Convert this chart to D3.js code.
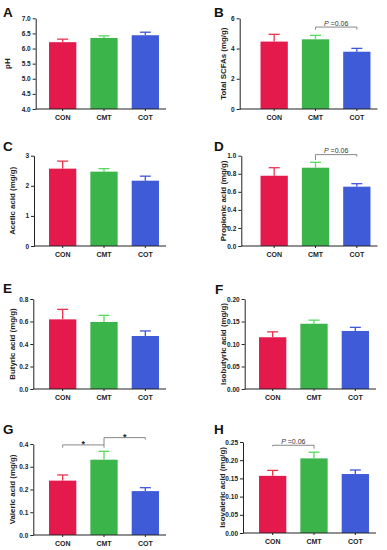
<!DOCTYPE html>
<html><head><meta charset="utf-8">
<script src="https://cdn.jsdelivr.net/npm/d3@7"></script>
<style>body{margin:0;background:#fff}svg{display:block}</style>
</head><body>
<svg id="chart" width="387" height="550"></svg>
<script>
// ---------- DATA ----------
const categories = ["CON", "CMT", "COT"];
const colors = ["#E31A4B", "#3BB44A", "#3F5BD8"];
const errColors = ["#E8354F", "#55DA5C", "#3F55DE"];

const phMean = [6.21, 6.35, 6.44];
const phErr = [0.10, 0.07, 0.10];
const phTicks = [4.0, 4.5, 5.0, 5.5, 6.0, 6.5, 7.0];

const scfaMean = [4.46, 4.61, 3.79];
const scfaErr = [0.48, 0.26, 0.22];
const scfaTicks = [0, 2, 4, 6];

const aceticMean = [2.57, 2.47, 2.17];
const aceticErr = [0.25, 0.10, 0.15];
const aceticTicks = [0, 1, 2, 3];

const propionicMean = [0.778, 0.867, 0.657];
const propionicErr = [0.089, 0.060, 0.033];
const propionicTicks = [0.0, 0.2, 0.4, 0.6, 0.8, 1.0];

const butyricMean = [0.619, 0.596, 0.471];
const butyricErr = [0.089, 0.059, 0.045];
const butyricTicks = [0.0, 0.2, 0.4, 0.6, 0.8];

const isobutyricMean = [0.115, 0.145, 0.129];
const isobutyricErr = [0.012, 0.008, 0.008];
const isobutyricTicks = [0.00, 0.05, 0.10, 0.15, 0.20];

const valericMean = [0.239, 0.331, 0.193];
const valericErr = [0.025, 0.037, 0.015];
const valericTicks = [0.0, 0.1, 0.2, 0.3, 0.4];

const isovalericMean = [0.157, 0.205, 0.162];
const isovalericErr = [0.015, 0.017, 0.011];
const isovalericTicks = [0.00, 0.05, 0.10, 0.15, 0.20, 0.25];

// significance annotations: [from category, to category, bracket level, left drop, right drop, label]
const annotB = [["CMT", "COT", 5.42, 5.25, 5.25, "P =0.06"]];
const annotD = [["CMT", "COT", 1.012, 0.952, 0.99, "P =0.06"]];
const annotG = [["CON", "CMT", 0.396, 0.384, 0.384, "*"], ["CMT", "COT", 0.428, 0.396, 0.419, "*"]];
const annotH = [["CON", "CMT", 0.241, 0.238, 0.2316, "P =0.06"]];

// ---------- LAYOUT ----------
const panels = [
  {letter: "A", lx: 3, ly: 16.5, mean: phMean, err: phErr, ticks: phTicks, dec: 1, title: "pH",
   ax: 35.7, top: 18.3, bottom: 109, band: [42, 166], titleX: 7.5, annot: []},
  {letter: "B", lx: 214, ly: 16.5, mean: scfaMean, err: scfaErr, ticks: scfaTicks, dec: 0, title: "Total SCFAs (mg/g)",
   ax: 239.7, top: 18.3, bottom: 109, band: [253.5, 377.5], titleX: 223.7, annot: annotB},
  {letter: "C", lx: 3, ly: 150.5, mean: aceticMean, err: aceticErr, ticks: aceticTicks, dec: 0, title: "Acetic acid (mg/g)",
   ax: 34, top: 155.7, bottom: 246, band: [42, 166], titleX: 12.7, annot: []},
  {letter: "D", lx: 214, ly: 150.5, mean: propionicMean, err: propionicErr, ticks: propionicTicks, dec: 1, title: "Propionic acid (mg/g)",
   ax: 241.3, top: 155.7, bottom: 246, band: [253.5, 377.5], titleX: 223.7, annot: annotD},
  {letter: "E", lx: 3, ly: 292.5, mean: butyricMean, err: butyricErr, ticks: butyricTicks, dec: 1, title: "Butyric acid (mg/g)",
   ax: 33.3, top: 299, bottom: 389, band: [42, 166], titleX: 12.7, annot: []},
  {letter: "F", lx: 215, ly: 293.5, mean: isobutyricMean, err: isobutyricErr, ticks: isobutyricTicks, dec: 2, title: "Isobutyric acid (mg/g)",
   ax: 244.7, top: 299, bottom: 389, band: [252, 376], titleX: 223, annot: []},
  {letter: "G", lx: 3, ly: 433.5, mean: valericMean, err: valericErr, ticks: valericTicks, dec: 1, title: "Valeric acid (mg/g)",
   ax: 33.3, top: 444, bottom: 535, band: [42, 166], titleX: 12.7, annot: annotG},
  {letter: "H", lx: 214, ly: 433.5, mean: isovalericMean, err: isovalericErr, ticks: isovalericTicks, dec: 2, title: "Isovaleric acid (mg/g)",
   ax: 243, top: 442, bottom: 533, band: [252, 376], titleX: 222.3, annot: annotH}
];

const FONT = "'Liberation Sans', Arial, Helvetica, sans-serif";
const svg = d3.select("#chart");
svg.append("rect").attr("width", 387).attr("height", 550).attr("fill", "#fff");

panels.forEach(p => {
  const g = svg.append("g");
  const t = p.ticks;
  const y = d3.scaleLinear().domain([t[0], t[t.length - 1]]).range([p.bottom, p.top]);
  const x = d3.scaleBand().domain(categories).range(p.band).paddingInner(0.34).paddingOuter(0.17);
  const bw = x.bandwidth();

  // bars
  g.selectAll("rect.bar").data(categories).join("rect")
    .attr("x", d => x(d)).attr("width", bw)
    .attr("y", (d, i) => y(p.mean[i]))
    .attr("height", (d, i) => p.bottom - y(p.mean[i]))
    .attr("fill", (d, i) => colors[i]);

  // error bars
  categories.forEach((c, i) => {
    const cx = x(c) + bw / 2;
    const yt = y(p.mean[i] + p.err[i]);
    g.append("line").attr("x1", cx).attr("x2", cx).attr("y1", y(p.mean[i])).attr("y2", yt)
      .attr("stroke", errColors[i]).attr("stroke-width", 1.3);
    g.append("line").attr("x1", cx - 5.5).attr("x2", cx + 5.5).attr("y1", yt).attr("y2", yt)
      .attr("stroke", errColors[i]).attr("stroke-width", 1.3);
  });

  // y axis
  const yAxis = d3.axisLeft(y).tickValues(t).tickSize(3).tickSizeOuter(0).tickPadding(2)
    .tickFormat(d3.format("." + p.dec + "f"));
  const ya = g.append("g").attr("transform", `translate(${p.ax},0)`).call(yAxis);
  ya.select(".domain").attr("stroke", "#222").attr("stroke-width", 1);
  ya.selectAll(".tick line").attr("stroke", "#222").attr("stroke-width", 1);
  ya.selectAll("text").attr("font-family", FONT).attr("font-weight", "bold")
    .attr("font-size", 6.5).attr("fill", "#222");

  // x axis
  const xAxis = d3.axisBottom(x).tickSize(2).tickSizeOuter(0).tickPadding(3.6);
  const xa = g.append("g").attr("transform", `translate(0,${p.bottom})`).call(xAxis);
  xa.select(".domain").remove();
  xa.selectAll(".tick line").attr("stroke", "#222");
  xa.selectAll("text").attr("font-family", FONT).attr("font-weight", "bold")
    .attr("font-size", 7).attr("fill", "#222");
  g.append("line").attr("x1", p.ax).attr("x2", p.band[1]).attr("y1", p.bottom).attr("y2", p.bottom)
    .attr("stroke", "#222").attr("stroke-width", 1);

  // y title
  g.append("text")
    .attr("transform", `translate(${p.titleX},${(p.top + p.bottom) / 2}) rotate(-90)`)
    .attr("text-anchor", "middle").attr("dominant-baseline", "central")
    .attr("font-family", FONT).attr("font-weight", "bold").attr("font-size", 7.9).attr("fill", "#222")
    .text(p.title);

  // panel letter
  g.append("text").attr("x", p.lx).attr("y", p.ly)
    .attr("font-family", FONT).attr("font-weight", "bold").attr("font-size", 13.5).attr("fill", "#111")
    .text(p.letter);

  // annotations
  p.annot.forEach(a => {
    const x1 = x(a[0]) + bw / 2, x2 = x(a[1]) + bw / 2;
    const yl = y(a[2]);
    g.append("path")
      .attr("d", `M${x1},${y(a[3])}V${yl}H${x2}V${y(a[4])}`)
      .attr("fill", "none").attr("stroke", "#7a7a7a").attr("stroke-width", 0.9);
    const mx = (x1 + x2) / 2;
    if (a[5] === "*") {
      g.append("text").attr("x", mx).attr("y", yl + 2).attr("text-anchor", "middle")
        .attr("font-family", FONT).attr("font-weight", "bold").attr("font-size", 9).attr("fill", "#222")
        .text("*");
    } else {
      const tx = g.append("text").attr("x", mx).attr("y", yl - 1.2).attr("text-anchor", "middle")
        .attr("font-family", FONT).attr("font-size", 7).attr("fill", "#333");
      tx.append("tspan").attr("font-style", "italic").text(a[5].slice(0, 1));
      tx.append("tspan").text(a[5].slice(1));
    }
  });
});
</script>
</body></html>
